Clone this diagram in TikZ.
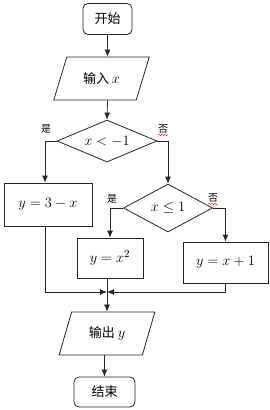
\documentclass[tikz,border=0pt]{standalone}
\usepackage{fontspec}
\newfontfamily\cjk{Noto Sans CJK SC}
\usetikzlibrary{shapes.geometric,arrows.meta,decorations.pathmorphing}
\begin{document}
\begin{tikzpicture}[x=1pt,y=-1pt,
  every node/.style={font=\fontsize{15}{17}\selectfont, inner sep=0pt},
  line/.style={draw=black!85, line width=0.8pt},
  arr/.style={line, -{Latex[length=7pt,width=6pt]}},
  termbox/.style={line, rectangle, rounded corners=5pt, minimum width=#1, minimum height=31pt},
  procbox/.style={line, rectangle, minimum width=#1, minimum height=42pt},
  iobox/.style={line, trapezium, trapezium left angle=#1, trapezium right angle=180-#1,
     trapezium stretches=true, minimum width=96pt, minimum height=43pt},
  decbox/.style={line, diamond, shape aspect=2.3},
  cj/.style={font=\cjk\fontsize{13}{15}\selectfont},
  lbl/.style={font=\cjk\fontsize{10}{11}\selectfont},
  wavy/.style={draw=red!80, line width=0.5pt, decorate, decoration={snake, amplitude=0.8pt, segment length=3pt}}
]
\useasboundingbox (0,0) rectangle (269,410);

\node[termbox=49pt, cj] (start) at (107.5,19) {开始};
\node[iobox=60, cj] (in) at (101.5,78.5) {输入 \normalfont\fontsize{15}{17}\selectfont$x$};
\node[decbox, minimum width=100pt, minimum height=42pt] (d1) at (107,141) {$x<-1$};
\node[procbox=88pt, minimum height=43pt] (b1) at (48,204.5) {$y=3-x$};
\node[decbox, minimum width=89pt, minimum height=48pt] (d2) at (168,208) {$x\le 1$};
\node[procbox=66pt, minimum height=40pt] (b2) at (110,258) {$y=x^2$};
\node[procbox=85pt, minimum height=41pt] (b3) at (225.5,262.5) {$y=x+1$};
\node[iobox=65, cj] (out) at (107,333.5) {输出 \normalfont\fontsize{15}{17}\selectfont$y$};
\node[termbox=61pt, minimum height=30pt, cj] (end) at (104.5,392) {结束};

\coordinate (j) at (107,292);
\coordinate (l1) at (45,141);

\node[lbl] (y1) at (46,129) {是};
\node[lbl] (n1) at (163,129) {否};
\node[lbl] (y2) at (112,199) {是};
\node[lbl] (n2) at (213,198) {否};
\draw[wavy] ([xshift=-5pt,yshift=-6pt]n1.center) -- ([xshift=5pt,yshift=-6pt]n1.center);
\draw[wavy] ([xshift=-5pt,yshift=-6pt]n2.center) -- ([xshift=5pt,yshift=-6pt]n2.center);

\draw[arr] (start.south) -- (start.south |- in.north);
\draw[arr] (start.south |- in.south) -- (d1.north);
\draw[arr] (d1.west) -- (l1) -- (l1 |- b1.north);
\draw[arr] (d1.east) -| (d2.north);
\draw[arr] (d2.west) -| (b2.north);
\draw[arr] (d2.east) -| (b3.north);
\draw[arr] (l1 |- b1.south) -- (l1 |- j) -- (j);
\draw[arr] (b3.south) -- (b3.south |- j) -- (j);
\draw[line] (b2.south -| j) -- (j);
\draw[arr] (j) -- (j |- out.north);
\draw[arr] (out.south -| end.north) -- (end.north);
\end{tikzpicture}
\end{document}
